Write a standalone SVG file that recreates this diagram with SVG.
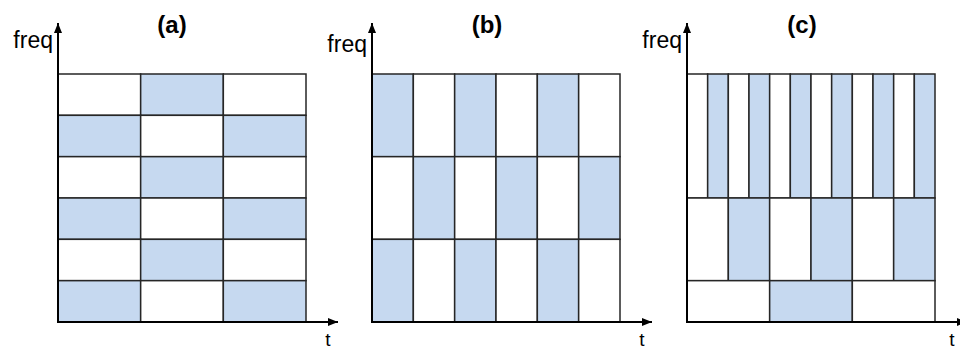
<svg xmlns="http://www.w3.org/2000/svg" width="960" height="350" viewBox="0 0 960 350">
  <defs>
    <style>
      .w { fill: #ffffff; stroke: #262626; stroke-width: 1.5; }
      .b { fill: #C6D9F0; stroke: #262626; stroke-width: 1.5; }
      .ax { stroke: #000000; stroke-width: 2; fill: none; }
      .lbl { font-family: "Liberation Sans", Arial, sans-serif; font-size: 23px; fill: #000; text-anchor: end; }
      .tl { font-family: "Liberation Sans", Arial, sans-serif; font-size: 19px; fill: #000; text-anchor: middle; }
      .ttl { font-family: "Liberation Sans", Arial, sans-serif; font-size: 24px; font-weight: bold; fill: #000; text-anchor: middle; }
    </style>
    <marker id="arr" markerUnits="userSpaceOnUse" markerWidth="11" markerHeight="10" refX="10" refY="5" orient="auto">
      <path d="M0,1 L10,5 L0,9 Z" fill="#000"/>
    </marker>
  </defs>
  <rect width="960" height="350" fill="#ffffff"/>

  <!-- Panel (a) -->
  <g id="panel-a" transform="translate(58,74)">
    <rect class="w" x="0" y="0" width="82.67" height="41.33"/>
    <rect class="b" x="82.67" y="0" width="82.67" height="41.33"/>
    <rect class="w" x="165.33" y="0" width="82.67" height="41.33"/>
    <rect class="b" x="0" y="41.33" width="82.67" height="41.33"/>
    <rect class="w" x="82.67" y="41.33" width="82.67" height="41.33"/>
    <rect class="b" x="165.33" y="41.33" width="82.67" height="41.33"/>
    <rect class="w" x="0" y="82.67" width="82.67" height="41.33"/>
    <rect class="b" x="82.67" y="82.67" width="82.67" height="41.33"/>
    <rect class="w" x="165.33" y="82.67" width="82.67" height="41.33"/>
    <rect class="b" x="0" y="124" width="82.67" height="41.33"/>
    <rect class="w" x="82.67" y="124" width="82.67" height="41.33"/>
    <rect class="b" x="165.33" y="124" width="82.67" height="41.33"/>
    <rect class="w" x="0" y="165.33" width="82.67" height="41.33"/>
    <rect class="b" x="82.67" y="165.33" width="82.67" height="41.33"/>
    <rect class="w" x="165.33" y="165.33" width="82.67" height="41.33"/>
    <rect class="b" x="0" y="206.67" width="82.67" height="41.33"/>
    <rect class="w" x="82.67" y="206.67" width="82.67" height="41.33"/>
    <rect class="b" x="165.33" y="206.67" width="82.67" height="41.33"/>
    <text class="ttl" x="114" y="-41">(a)</text>
    <text class="lbl" x="-5" y="-26">freq</text>
    <text class="tl" x="270" y="272">t</text>
  </g>

  <!-- Panel (b) -->
  <g id="panel-b" transform="translate(372,74)">
    <rect class="b" x="0" y="0" width="41.33" height="82.67"/>
    <rect class="w" x="41.33" y="0" width="41.33" height="82.67"/>
    <rect class="b" x="82.67" y="0" width="41.33" height="82.67"/>
    <rect class="w" x="124" y="0" width="41.33" height="82.67"/>
    <rect class="b" x="165.33" y="0" width="41.33" height="82.67"/>
    <rect class="w" x="206.67" y="0" width="41.33" height="82.67"/>
    <rect class="w" x="0" y="82.67" width="41.33" height="82.67"/>
    <rect class="b" x="41.33" y="82.67" width="41.33" height="82.67"/>
    <rect class="w" x="82.67" y="82.67" width="41.33" height="82.67"/>
    <rect class="b" x="124" y="82.67" width="41.33" height="82.67"/>
    <rect class="w" x="165.33" y="82.67" width="41.33" height="82.67"/>
    <rect class="b" x="206.67" y="82.67" width="41.33" height="82.67"/>
    <rect class="b" x="0" y="165.33" width="41.33" height="82.67"/>
    <rect class="w" x="41.33" y="165.33" width="41.33" height="82.67"/>
    <rect class="b" x="82.67" y="165.33" width="41.33" height="82.67"/>
    <rect class="w" x="124" y="165.33" width="41.33" height="82.67"/>
    <rect class="b" x="165.33" y="165.33" width="41.33" height="82.67"/>
    <rect class="w" x="206.67" y="165.33" width="41.33" height="82.67"/>
    <text class="ttl" x="115" y="-41">(b)</text>
    <text class="lbl" x="-5" y="-22">freq</text>
    <text class="tl" x="270" y="272">t</text>
  </g>

  <!-- Panel (c) -->
  <g id="panel-c" transform="translate(687,74)">
    <rect class="w" x="0" y="0" width="20.67" height="124"/>
    <rect class="b" x="20.67" y="0" width="20.67" height="124"/>
    <rect class="w" x="41.33" y="0" width="20.67" height="124"/>
    <rect class="b" x="62" y="0" width="20.67" height="124"/>
    <rect class="w" x="82.67" y="0" width="20.67" height="124"/>
    <rect class="b" x="103.33" y="0" width="20.67" height="124"/>
    <rect class="w" x="124" y="0" width="20.67" height="124"/>
    <rect class="b" x="144.67" y="0" width="20.67" height="124"/>
    <rect class="w" x="165.33" y="0" width="20.67" height="124"/>
    <rect class="b" x="186" y="0" width="20.67" height="124"/>
    <rect class="w" x="206.67" y="0" width="20.67" height="124"/>
    <rect class="b" x="227.33" y="0" width="20.67" height="124"/>
    <rect class="w" x="0" y="124" width="41.33" height="82.67"/>
    <rect class="b" x="41.33" y="124" width="41.33" height="82.67"/>
    <rect class="w" x="82.67" y="124" width="41.33" height="82.67"/>
    <rect class="b" x="124" y="124" width="41.33" height="82.67"/>
    <rect class="w" x="165.33" y="124" width="41.33" height="82.67"/>
    <rect class="b" x="206.67" y="124" width="41.33" height="82.67"/>
    <rect class="w" x="0" y="206.67" width="82.67" height="41.33"/>
    <rect class="b" x="82.67" y="206.67" width="82.67" height="41.33"/>
    <rect class="w" x="165.33" y="206.67" width="82.67" height="41.33"/>
    <text class="ttl" x="115" y="-41">(c)</text>
    <text class="lbl" x="-5" y="-26">freq</text>
    <text class="tl" x="265" y="272">t</text>
  </g>

  <!-- Axes -->
  <g id="axes">
    <line class="ax" x1="58" y1="323" x2="58" y2="23" marker-end="url(#arr)"/>
    <line class="ax" x1="57" y1="322" x2="338" y2="322" marker-end="url(#arr)"/>
    <line class="ax" x1="372" y1="323" x2="372" y2="23" marker-end="url(#arr)"/>
    <line class="ax" x1="371" y1="322" x2="652" y2="322" marker-end="url(#arr)"/>
    <line class="ax" x1="687" y1="323" x2="687" y2="23" marker-end="url(#arr)"/>
    <line class="ax" x1="686" y1="322" x2="967" y2="322" marker-end="url(#arr)"/>
  </g>
</svg>
